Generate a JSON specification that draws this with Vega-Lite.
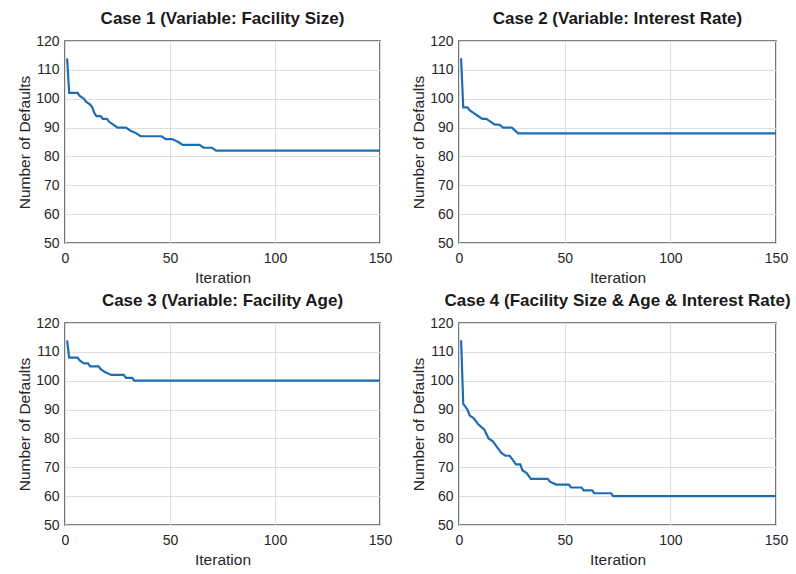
{
  "$schema": "https://vega.github.io/schema/vega-lite/v6.json",
  "background": "white",
  "padding": {"top": 9, "left": 16, "right": 0, "bottom": 0},
  "data": {"values": [
    {"case": 1, "iter": 1, "v": 114}, {"case": 1, "iter": 2, "v": 102}, {"case": 1, "iter": 6, "v": 102}, {"case": 1, "iter": 7, "v": 101}, {"case": 1, "iter": 9, "v": 100}, {"case": 1, "iter": 10, "v": 99}, {"case": 1, "iter": 12, "v": 98}, {"case": 1, "iter": 13, "v": 97}, {"case": 1, "iter": 14, "v": 95}, {"case": 1, "iter": 15, "v": 94}, {"case": 1, "iter": 17, "v": 94}, {"case": 1, "iter": 18, "v": 93}, {"case": 1, "iter": 20, "v": 93}, {"case": 1, "iter": 21, "v": 92}, {"case": 1, "iter": 23, "v": 91}, {"case": 1, "iter": 25, "v": 90}, {"case": 1, "iter": 29, "v": 90}, {"case": 1, "iter": 31, "v": 89}, {"case": 1, "iter": 34, "v": 88}, {"case": 1, "iter": 36, "v": 87}, {"case": 1, "iter": 46, "v": 87}, {"case": 1, "iter": 48, "v": 86}, {"case": 1, "iter": 51, "v": 86}, {"case": 1, "iter": 54, "v": 85}, {"case": 1, "iter": 56, "v": 84}, {"case": 1, "iter": 64, "v": 84}, {"case": 1, "iter": 66, "v": 83}, {"case": 1, "iter": 70, "v": 83}, {"case": 1, "iter": 72, "v": 82}, {"case": 1, "iter": 150, "v": 82},
    {"case": 2, "iter": 1, "v": 114}, {"case": 2, "iter": 2, "v": 97}, {"case": 2, "iter": 4, "v": 97}, {"case": 2, "iter": 5, "v": 96}, {"case": 2, "iter": 7, "v": 95}, {"case": 2, "iter": 9, "v": 94}, {"case": 2, "iter": 11, "v": 93}, {"case": 2, "iter": 13, "v": 93}, {"case": 2, "iter": 15, "v": 92}, {"case": 2, "iter": 17, "v": 91}, {"case": 2, "iter": 19, "v": 91}, {"case": 2, "iter": 21, "v": 90}, {"case": 2, "iter": 25, "v": 90}, {"case": 2, "iter": 28, "v": 88}, {"case": 2, "iter": 150, "v": 88},
    {"case": 3, "iter": 1, "v": 114}, {"case": 3, "iter": 2, "v": 108}, {"case": 3, "iter": 6, "v": 108}, {"case": 3, "iter": 7, "v": 107}, {"case": 3, "iter": 9, "v": 106}, {"case": 3, "iter": 11, "v": 106}, {"case": 3, "iter": 12, "v": 105}, {"case": 3, "iter": 16, "v": 105}, {"case": 3, "iter": 17, "v": 104}, {"case": 3, "iter": 19, "v": 103}, {"case": 3, "iter": 22, "v": 102}, {"case": 3, "iter": 28, "v": 102}, {"case": 3, "iter": 29, "v": 101}, {"case": 3, "iter": 32, "v": 101}, {"case": 3, "iter": 33, "v": 100}, {"case": 3, "iter": 150, "v": 100},
    {"case": 4, "iter": 1, "v": 114}, {"case": 4, "iter": 2, "v": 92}, {"case": 4, "iter": 3, "v": 91}, {"case": 4, "iter": 4, "v": 90}, {"case": 4, "iter": 5, "v": 88}, {"case": 4, "iter": 7, "v": 87}, {"case": 4, "iter": 9, "v": 85}, {"case": 4, "iter": 12, "v": 83}, {"case": 4, "iter": 14, "v": 80}, {"case": 4, "iter": 16, "v": 79}, {"case": 4, "iter": 17, "v": 78}, {"case": 4, "iter": 18, "v": 77}, {"case": 4, "iter": 19, "v": 76}, {"case": 4, "iter": 20, "v": 75}, {"case": 4, "iter": 22, "v": 74}, {"case": 4, "iter": 24, "v": 74}, {"case": 4, "iter": 25, "v": 73}, {"case": 4, "iter": 27, "v": 71}, {"case": 4, "iter": 29, "v": 71}, {"case": 4, "iter": 30, "v": 69}, {"case": 4, "iter": 32, "v": 68}, {"case": 4, "iter": 34, "v": 66}, {"case": 4, "iter": 42, "v": 66}, {"case": 4, "iter": 43, "v": 65}, {"case": 4, "iter": 46, "v": 64}, {"case": 4, "iter": 52, "v": 64}, {"case": 4, "iter": 53, "v": 63}, {"case": 4, "iter": 58, "v": 63}, {"case": 4, "iter": 59, "v": 62}, {"case": 4, "iter": 63, "v": 62}, {"case": 4, "iter": 64, "v": 61}, {"case": 4, "iter": 72, "v": 61}, {"case": 4, "iter": 73, "v": 60}, {"case": 4, "iter": 150, "v": 60}
  ]},
  "columns": 2,
  "bounds": "flush",
  "spacing": {"row": 80, "column": 79},
  "concat": [
    {
      "title": "Case 1 (Variable: Facility Size)",
      "width": 315, "height": 202,
      "transform": [{"filter": "datum.case == 1"}],
      "mark": {"type": "line", "color": "#1c6db5", "strokeWidth": 2.2, "clip": true},
      "encoding": {
        "x": {"field": "iter", "type": "quantitative", "scale": {"domain": [0, 150], "nice": false}, "axis": {"title": "Iteration", "values": [0, 50, 100, 150]}},
        "y": {"field": "v", "type": "quantitative", "scale": {"domain": [50, 120], "nice": false, "zero": false}, "axis": {"title": "Number of Defaults", "values": [50, 60, 70, 80, 90, 100, 110, 120]}}
      }
    },
    {
      "title": "Case 2 (Variable: Interest Rate)",
      "width": 317, "height": 202,
      "transform": [{"filter": "datum.case == 2"}],
      "mark": {"type": "line", "color": "#1c6db5", "strokeWidth": 2.2, "clip": true},
      "encoding": {
        "x": {"field": "iter", "type": "quantitative", "scale": {"domain": [0, 150], "nice": false}, "axis": {"title": "Iteration", "values": [0, 50, 100, 150]}},
        "y": {"field": "v", "type": "quantitative", "scale": {"domain": [50, 120], "nice": false, "zero": false}, "axis": {"title": "Number of Defaults", "values": [50, 60, 70, 80, 90, 100, 110, 120]}}
      }
    },
    {
      "title": "Case 3 (Variable: Facility Age)",
      "width": 315, "height": 202,
      "transform": [{"filter": "datum.case == 3"}],
      "mark": {"type": "line", "color": "#1c6db5", "strokeWidth": 2.2, "clip": true},
      "encoding": {
        "x": {"field": "iter", "type": "quantitative", "scale": {"domain": [0, 150], "nice": false}, "axis": {"title": "Iteration", "values": [0, 50, 100, 150]}},
        "y": {"field": "v", "type": "quantitative", "scale": {"domain": [50, 120], "nice": false, "zero": false}, "axis": {"title": "Number of Defaults", "values": [50, 60, 70, 80, 90, 100, 110, 120]}}
      }
    },
    {
      "title": "Case 4 (Facility Size & Age & Interest Rate)",
      "width": 317, "height": 202,
      "transform": [{"filter": "datum.case == 4"}],
      "mark": {"type": "line", "color": "#1c6db5", "strokeWidth": 2.2, "clip": true},
      "encoding": {
        "x": {"field": "iter", "type": "quantitative", "scale": {"domain": [0, 150], "nice": false}, "axis": {"title": "Iteration", "values": [0, 50, 100, 150]}},
        "y": {"field": "v", "type": "quantitative", "scale": {"domain": [50, 120], "nice": false, "zero": false}, "axis": {"title": "Number of Defaults", "values": [50, 60, 70, 80, 90, 100, 110, 120]}}
      }
    }
  ],
  "config": {
    "font": "Liberation Sans",
    "view": {"stroke": "#555555", "strokeWidth": 1.6},
    "title": {"font": "Liberation Sans", "fontSize": 17, "fontWeight": "bold", "color": "#1a1a1a", "offset": 6, "anchor": "middle"},
    "axis": {
      "domain": false,
      "grid": true,
      "gridColor": "#dedede",
      "gridWidth": 1,
      "ticks": false,
      "labelFont": "Liberation Sans",
      "labelFontSize": 14,
      "labelColor": "#262626",
      "labelFlush": false,
      "labelOverlap": false,
      "titleFont": "Liberation Sans",
      "titleFontSize": 15.5,
      "titleFontWeight": "normal",
      "titleColor": "#262626"
    },
    "axisX": {"labelPadding": 8, "titlePadding": 5},
    "axisY": {"labelPadding": 6, "titlePadding": 3}
  }
}
